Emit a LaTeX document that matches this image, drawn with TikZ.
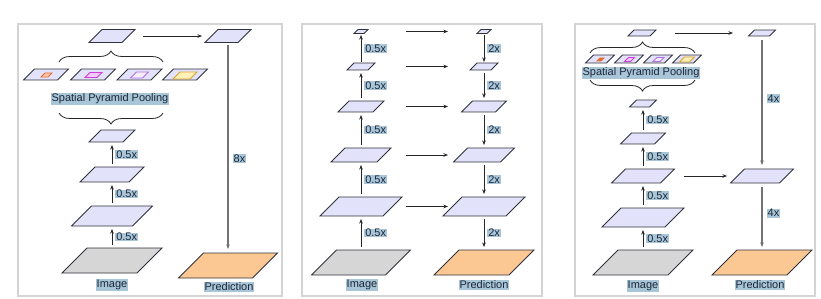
\documentclass[tikz,border=0pt]{standalone}
\usepackage{fontspec}
\setmainfont{Liberation Sans}
\usetikzlibrary{arrows.meta,decorations.pathreplacing,calc}
\definecolor{plateblue}{RGB}{226,226,250}
\definecolor{platedraw}{RGB}{50,50,60}
\definecolor{imggray}{RGB}{214,214,214}
\definecolor{predorange}{RGB}{251,200,148}
\definecolor{hl}{RGB}{168,198,216}
\definecolor{txt}{RGB}{28,38,55}
\definecolor{framegray}{RGB}{212,212,212}
\definecolor{sppA}{RGB}{230,110,50}
\definecolor{sppAf}{RGB}{248,200,170}
\definecolor{sppB}{RGB}{210,60,220}
\definecolor{sppBf}{RGB}{240,205,248}
\definecolor{sppC}{RGB}{176,110,232}
\definecolor{sppCf}{RGB}{244,238,252}
\definecolor{sppD}{RGB}{214,166,44}
\definecolor{sppDf}{RGB}{255,240,184}
\tikzset{
  platebox/.style={draw=none, rectangle, inner sep=0pt, outer sep=0pt},
  plateline/.style={line width=0.8pt, line join=miter},
  arr/.style={-{Stealth[length=4.5pt,width=3.5pt]}, line width=0.6pt, draw=black!85, shorten <=3pt, shorten >=3pt},
  longarr/.style={-{Stealth[length=4.5pt,width=3.5pt]}, line width=1.3pt, draw=black!55},
  lbl/.style={fill=hl, text=txt, inner xsep=1pt, inner ysep=0.6pt, font=\fontsize{11}{12}\selectfont},
  bracestyle/.style={decorate, decoration={brace, amplitude=11pt}, line width=0.8pt, draw=black!85},
  frame/.style={draw=framegray, line width=1.2pt}
}
\newcommand\mkplate[7][platedraw]{%
  \node[platebox, minimum width=#5pt, minimum height=#6pt] (#2) at (#3,#4) {};
  \draw[plateline, draw=#1, fill=#7] (#2.south west) -- ([xshift=-#6pt]#2.south east) -- (#2.north east) -- ([xshift=#6pt]#2.north west) -- cycle;
}
\begin{document}
\begin{tikzpicture}[x=1pt, y=-1pt]
\useasboundingbox (0,0) rectangle (821,299);
\fill[white] (0,0) rectangle (821,299);
% frames
\draw[frame] (18,24) rectangle (282,296);
\draw[frame] (302,24) rectangle (542,296);
\draw[frame] (575,24) rectangle (815,296);

% ================= Panel 1 =================
\mkplate{a1}{112}{36}{46}{13}{plateblue}
\mkplate{a1r}{228}{36}{46}{13}{plateblue}
\mkplate{s1}{46}{74.5}{45}{11}{plateblue}
\mkplate[sppA]{s1i}{46.5}{75}{11}{4}{sppAf}
\mkplate{s2}{93}{74.5}{45}{11}{plateblue}
\mkplate[sppB]{s2i}{93.5}{75}{17}{5}{sppBf}
\mkplate{s3}{139.5}{74.5}{45}{11}{plateblue}
\mkplate[sppC]{s3i}{139.5}{75}{18}{6}{sppCf}
\mkplate{s4}{185}{74.5}{45}{11}{plateblue}
\mkplate[sppD]{s4i}{185}{75.5}{24}{7}{sppDf}
\node[lbl] (spp1) at (110,99) {Spatial Pyramid Pooling};
\coordinate (b1l) at (59,62);
\coordinate (b1r) at (163,62);
\draw[bracestyle] (b1l) -- (b1r);
\coordinate (b2l) at (59,113);
\coordinate (b2r) at (163,113);
\draw[bracestyle] (b2r) -- (b2l);
\mkplate{a2}{112}{136}{46}{12}{plateblue}
\mkplate{a3}{112}{174.5}{64}{15}{plateblue}
\mkplate{a4}{112}{216}{81}{20}{plateblue}
\mkplate{a5}{112}{260.5}{100}{25}{imggray}
\mkplate{ap}{228}{265.5}{99}{25}{predorange}
\node[lbl] (aimg) at (112,285) {Image};
\node[lbl] (apred) at (229,287) {Prediction};
\draw[arr] (a5.north) -- node[lbl, right=3pt] (la1) {0.5x} (a4.south);
\draw[arr] (a4.north) -- node[lbl, right=3pt] (la2) {0.5x} (a3.south);
\draw[arr] (a3.north) -- node[lbl, right=3pt] (la3) {0.5x} (a2.south);
\draw[arr, shorten <=0pt, shorten >=0pt] ([xshift=8pt]a1.east) -- ([xshift=-3pt]a1r.west);
\draw[longarr, shorten <=3pt, shorten >=4pt] (a1r.south) -- node[lbl, right=4pt, pos=0.55] (la8) {8x} (ap.north);

% ================= Panel 2 =================
\mkplate{b1}{361}{31.5}{14}{4}{plateblue}
\mkplate{b2}{361}{66.5}{28}{7}{plateblue}
\mkplate{b3}{361}{106.5}{46}{11}{plateblue}
\mkplate{b4}{361}{155}{60}{14}{plateblue}
\mkplate{b5}{361}{206.5}{82}{19}{plateblue}
\mkplate{b6}{361}{262.5}{99}{25}{imggray}
\mkplate{c1}{484}{31.5}{14}{4}{plateblue}
\mkplate{c2}{484}{66.5}{28}{7}{plateblue}
\mkplate{c3}{484}{106.5}{45}{11}{plateblue}
\mkplate{c4}{484}{155}{61}{14}{plateblue}
\mkplate{c5}{484}{206.5}{82}{19}{plateblue}
\mkplate{c6}{484}{262.5}{100}{25}{predorange}
\node[lbl] (bimg) at (362,285) {Image};
\node[lbl] (cpred) at (484,285) {Prediction};
\draw[arr] (b6.north) -- node[lbl, right=3pt] (lb1) {0.5x} (b5.south);
\draw[arr] (b5.north) -- node[lbl, right=3pt] (lb2) {0.5x} (b4.south);
\draw[arr] (b4.north) -- node[lbl, right=3pt] (lb3) {0.5x} (b3.south);
\draw[arr] (b3.north) -- node[lbl, right=3pt] (lb4) {0.5x} (b2.south);
\draw[arr, shorten <=1pt, shorten >=1.5pt] (b2.north) -- node[lbl, right=3pt] (lb5) {0.5x} (b1.south);
\draw[arr, shorten <=1.5pt, shorten >=1pt] (c1.south) -- node[lbl, right=3pt] (lc1) {2x} (c2.north);
\draw[arr] (c2.south) -- node[lbl, right=3pt] (lc2) {2x} (c3.north);
\draw[arr] (c3.south) -- node[lbl, right=3pt] (lc3) {2x} (c4.north);
\draw[arr] (c4.south) -- node[lbl, right=3pt] (lc4) {2x} (c5.north);
\draw[arr] (c5.south) -- node[lbl, right=3pt] (lc5) {2x} (c6.north);
\foreach \i in {1,...,5}{
  \draw[arr, shorten <=0pt, shorten >=0pt] ([xshift=45pt]b\i.center) -- ([xshift=-36pt]c\i.center);
}

% ================= Panel 3 =================
\mkplate{d1}{642}{33}{28}{6}{plateblue}
\mkplate{e1}{600}{59}{29}{8}{plateblue}
\mkplate[sppA]{e1i}{600.5}{59.5}{7}{3}{sppA}
\mkplate{e2}{629}{59}{29}{8}{plateblue}
\mkplate[sppB]{e2i}{629.5}{59.5}{10}{4}{sppBf}
\mkplate{e3}{658}{59}{29}{8}{plateblue}
\mkplate[sppC]{e3i}{658.5}{59.5}{11}{4}{sppCf}
\mkplate{e4}{687}{59}{29}{8}{plateblue}
\mkplate[sppD]{e4i}{687}{59.5}{15}{5}{sppDf}
\node[lbl] (spp3) at (641,73) {Spatial Pyramid Pooling};
\coordinate (b3l) at (590,53);
\coordinate (b3r) at (695,53);
\draw[bracestyle] (b3l) -- (b3r);
\coordinate (b4l) at (590,80);
\coordinate (b4r) at (695,80);
\draw[bracestyle] (b4r) -- (b4l);
\mkplate{d2}{643}{103.5}{27}{7}{plateblue}
\mkplate{d3}{643}{138.5}{45}{11}{plateblue}
\mkplate{d4}{643}{176}{63}{14}{plateblue}
\mkplate{d5}{643}{217.5}{82}{19}{plateblue}
\mkplate{d6}{643}{262.5}{100}{25}{imggray}
\mkplate{f1}{762}{33}{27}{6}{plateblue}
\mkplate{f2}{762}{176}{63}{14}{plateblue}
\mkplate{f3}{762}{262.5}{100}{25}{predorange}
\node[lbl] (dimg) at (643,286) {Image};
\node[lbl] (fpred) at (760,285) {Prediction};
\draw[arr] (d6.north) -- node[lbl, right=3pt] (ld1) {0.5x} (d5.south);
\draw[arr] (d5.north) -- node[lbl, right=3pt] (ld2) {0.5x} (d4.south);
\draw[arr] (d4.north) -- node[lbl, right=3pt] (ld3) {0.5x} (d3.south);
\draw[arr] (d3.north) -- node[lbl, right=3pt] (ld4) {0.5x} (d2.south);
\draw[arr, shorten <=0pt, shorten >=0pt] ([xshift=33pt]d1.center) -- ([xshift=-29pt]f1.center);
\draw[arr, shorten <=0pt, shorten >=0pt] ([xshift=41pt]d4.center) -- ([xshift=-35pt]f2.center);
\draw[longarr, shorten <=4pt, shorten >=4pt] (f1.south) -- node[lbl, right=4pt, pos=0.47] (lf1) {4x} (f2.north);
\draw[longarr, shorten <=4pt, shorten >=3pt] (f2.south) -- node[lbl, right=4pt, pos=0.45] (lf2) {4x} (f3.north);
\end{tikzpicture}
\end{document}
